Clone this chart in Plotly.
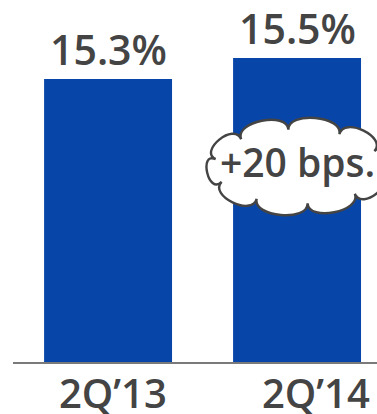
import numpy as np
import plotly.graph_objects as go

# Operating margin by quarter
periods = ["2Q’13", "2Q’14"]
margin_pct = [15.3, 15.5]
value_labels = ["15.3%", "15.5%"]
change_label = "+20 bps."

W, H = 377, 414
ML, MR, MT, MB = 13, 0, 0, 52
PW, PH = W - ML - MR, H - MT - MB

BAR_BLUE = "#0845A8"
TEXT_GREY = "#444444"
FONT = "Open Sans"
WEIGHT = 600


def px_to_paper(px, py):
    """Convert figure pixel coordinates to paper coordinates."""
    return (px - ML) / PW, (H - MB - py) / PH


def cloud_path(cx, cy, rx, ry, n_bumps, bulge, phase=0.0):
    """Closed cloud outline: cubic bumps strung around an ellipse (pixels)."""
    ang = np.linspace(0, 2 * np.pi, n_bumps + 1) + phase
    pts = np.column_stack([cx + rx * np.cos(ang), cy + ry * np.sin(ang)])
    segs = []
    x0, y0 = px_to_paper(*pts[0])
    segs.append(f"M {x0:.5f},{y0:.5f}")
    for i in range(n_bumps):
        a, b = ang[i], ang[i + 1]
        pa, pb = pts[i], pts[i + 1]
        na = np.array([np.cos(a) / rx, np.sin(a) / ry])
        nb = np.array([np.cos(b) / rx, np.sin(b) / ry])
        na /= np.linalg.norm(na)
        nb /= np.linalg.norm(nb)
        c1 = pa + na * bulge
        c2 = pb + nb * bulge
        c1p, c2p, pbp = px_to_paper(*c1), px_to_paper(*c2), px_to_paper(*pb)
        segs.append(
            f"C {c1p[0]:.5f},{c1p[1]:.5f} {c2p[0]:.5f},{c2p[1]:.5f} {pbp[0]:.5f},{pbp[1]:.5f}"
        )
    segs.append("Z")
    return " ".join(segs)


fig = go.Figure(
    go.Bar(
        x=periods,
        y=margin_pct,
        width=0.677,
        marker=dict(color=BAR_BLUE, line=dict(width=0)),
        hoverinfo="skip",
    )
)

annotations = []
for p, v, lab in zip(periods, margin_pct, value_labels):
    annotations.append(
        dict(
            x=p, y=v, xref="x", yref="y", text=lab, showarrow=False,
            yanchor="bottom", yshift=0,
            font=dict(family=FONT, size=41, color=TEXT_GREY, weight=WEIGHT),
        )
    )

for p, shift in zip(periods, [5, 19]):
    annotations.append(
        dict(
            x=p, y=0, xref="x", yref="paper", text=p, showarrow=False,
            yanchor="top", xshift=shift, yshift=-1,
            font=dict(family=FONT, size=40, color=TEXT_GREY, weight=WEIGHT),
        )
    )

tx, ty = px_to_paper(297, 161)
annotations.append(
    dict(
        x=tx, y=ty, xref="paper", yref="paper", text=change_label,
        showarrow=False, xanchor="center", yanchor="middle",
        font=dict(family=FONT, size=39, color=TEXT_GREY, weight=WEIGHT),
    )
)

fig.update_layout(
    width=W,
    height=H,
    margin=dict(l=ML, r=MR, t=MT, b=MB),
    paper_bgcolor="white",
    plot_bgcolor="white",
    showlegend=False,
    font=dict(family=FONT, color=TEXT_GREY),
    xaxis=dict(
        type="category",
        range=[-0.503, 1.423],
        showline=True,
        linecolor="#7a7a7a",
        linewidth=2,
        showticklabels=False,
        ticks="",
        showgrid=False,
        zeroline=False,
        fixedrange=True,
    ),
    yaxis=dict(
        range=[12.605, 16.053],
        visible=False,
        fixedrange=True,
    ),
    shapes=[
        dict(
            type="path",
            xref="paper",
            yref="paper",
            path=cloud_path(298, 166.5, 84, 37, 10, 19, phase=0.2),
            fillcolor="white",
            line=dict(color="#444444", width=2.4),
            layer="above",
        )
    ],
    annotations=annotations,
)

fig.write_html("out.html", config={"displayModeBar": False})
